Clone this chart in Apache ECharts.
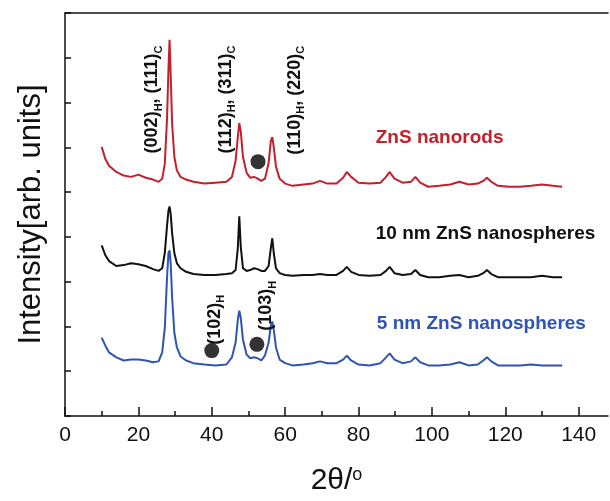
<!DOCTYPE html>
<html>
<head>
<meta charset="utf-8">
<script src="https://cdn.jsdelivr.net/npm/echarts@6/dist/echarts.min.js"></script>
<style>
  html, body { margin: 0; padding: 0; background: #fff; }
  #chart { width: 610px; height: 501px; }
</style>
</head>
<body>
<div id="chart"></div>
<script>
// 2theta positions (deg), shared by the three patterns
var twoTheta = [10, 11, 12, 14, 16, 18, 20, 22, 24, 25.5, 26.5, 27.2, 27.8, 28.2, 28.5, 28.8, 29.2, 29.8, 30.5, 31.5,
  33, 35, 38, 41, 44, 45.5, 46.5, 47.1, 47.5, 47.9, 48.5, 49.5, 50.5, 51.5, 52.5, 53.5, 54.5, 55.5, 56.1, 56.5,
  56.9, 57.5, 58.5, 60, 62, 65, 67.5, 69.5, 71.5, 74, 75.8, 76.8, 78, 80, 83, 86, 87.5, 88.5, 89.8, 92,
  94.3, 95.5, 96.8, 99, 102, 105, 107.5, 110, 112.5, 114, 115, 116.2, 118, 121, 124, 127, 130, 133, 135.5];

// ZnS nanorods (offset, top)
var nanorods = [6.01, 5.74, 5.59, 5.45, 5.37, 5.34, 5.39, 5.32, 5.28, 5.23, 5.30, 5.63, 6.63, 7.74, 8.40, 7.63, 6.52, 5.79, 5.48, 5.34,
  5.28, 5.23, 5.19, 5.21, 5.23, 5.34, 5.70, 6.23, 6.54, 6.36, 5.79, 5.43, 5.32, 5.34, 5.30, 5.25, 5.30, 5.65, 6.14, 6.23,
  6.01, 5.57, 5.30, 5.19, 5.14, 5.17, 5.19, 5.25, 5.19, 5.19, 5.32, 5.45, 5.34, 5.21, 5.19, 5.21, 5.34, 5.45, 5.30, 5.21,
  5.23, 5.34, 5.21, 5.12, 5.14, 5.17, 5.23, 5.17, 5.19, 5.25, 5.32, 5.23, 5.14, 5.12, 5.12, 5.14, 5.17, 5.14, 5.12];

// 10 nm ZnS nanospheres (middle)
var spheres10 = [3.81, 3.59, 3.46, 3.35, 3.37, 3.41, 3.39, 3.35, 3.28, 3.24, 3.30, 3.64, 4.24, 4.59, 4.68, 4.52, 4.08, 3.64, 3.41, 3.30,
  3.22, 3.17, 3.15, 3.15, 3.17, 3.19, 3.26, 3.75, 4.46, 3.79, 3.30, 3.24, 3.26, 3.30, 3.28, 3.24, 3.24, 3.35, 3.75, 3.97,
  3.64, 3.30, 3.19, 3.15, 3.13, 3.15, 3.15, 3.17, 3.15, 3.15, 3.24, 3.33, 3.22, 3.15, 3.13, 3.15, 3.24, 3.33, 3.19, 3.15,
  3.17, 3.26, 3.15, 3.10, 3.10, 3.13, 3.15, 3.10, 3.13, 3.19, 3.26, 3.17, 3.10, 3.10, 3.10, 3.10, 3.13, 3.10, 3.10];

// 5 nm ZnS nanospheres (bottom)
var spheres5 = [1.75, 1.57, 1.42, 1.31, 1.24, 1.26, 1.26, 1.24, 1.20, 1.22, 1.42, 1.97, 3.08, 3.64, 3.70, 3.41, 2.64, 1.86, 1.53, 1.33,
  1.24, 1.18, 1.15, 1.13, 1.15, 1.31, 1.64, 2.15, 2.35, 2.20, 1.71, 1.37, 1.29, 1.31, 1.29, 1.24, 1.35, 1.64, 2.02, 2.11,
  1.93, 1.53, 1.26, 1.18, 1.13, 1.15, 1.18, 1.22, 1.18, 1.18, 1.26, 1.35, 1.24, 1.15, 1.13, 1.18, 1.31, 1.40, 1.26, 1.18,
  1.22, 1.31, 1.20, 1.13, 1.13, 1.15, 1.20, 1.13, 1.15, 1.24, 1.31, 1.22, 1.13, 1.13, 1.13, 1.15, 1.13, 1.13, 1.13];

// black dots marking extra hexagonal reflections [2theta, intensity]
var dots = [[52.6, 5.68], [40.0, 1.46], [52.3, 1.60]];

// x ticks
var majorTicks = [0, 20, 40, 60, 80, 100, 120, 140];
var minorTicks = [10, 30, 50, 70, 90, 110, 130];

// peak index labels (anchor in data coords)
var peakLabels = ['(002){s|H}, (111){s|C}', '(112){s|H}, (311){s|C}', '(110){s|H}, (220){s|C}', '(102){s|H}', '(103){s|H}'];
var peakLabelPos = [[23.8, 7.07], [43.8, 7.07], [62.6, 7.05], [40.8, 2.15], [54.8, 2.46]];

var seriesNames = ['ZnS nanorods', '10 nm ZnS nanospheres', '5 nm ZnS nanospheres'];
var seriesNamePos = [[84.7, 6.21], [84.7, 4.08], [85.0, 2.06]];
var colors = ['#c4202c', '#111111', '#2f54b4'];

var font = 'Liberation Sans, Arial, Helvetica, sans-serif';

function pairs(ys) {
  var out = [];
  twoTheta.forEach(function (x, i) { out.push([x, ys[i]]); });
  return out;
}

var chart = echarts.init(document.getElementById('chart'));

var option = {
  animation: false,
  backgroundColor: '#fff',
  textStyle: { fontFamily: font },
  grid: { left: 65, top: 13, width: 543, height: 406 },
  xAxis: [{
    type: 'value', min: 0, max: 148,
    name: '2θ/{sup|o}', nameLocation: 'middle', nameGap: 50,
    nameTextStyle: {
      fontSize: 30, color: '#111', fontFamily: font,
      rich: { sup: { fontSize: 18, color: '#111', fontFamily: font, verticalAlign: 'top', lineHeight: 30 } }
    },
    axisLine: { lineStyle: { color: '#111', width: 1.5 } },
    axisTick: { inside: true, length: 9, customValues: majorTicks, lineStyle: { color: '#111', width: 1.5 } },
    axisLabel: { fontSize: 21, color: '#111', margin: 9, customValues: majorTicks, fontFamily: font },
    splitLine: { show: false }
  }, {
    type: 'value', min: 0, max: 148, position: 'bottom',
    axisLine: { show: false },
    axisTick: { inside: true, length: 5, customValues: minorTicks, lineStyle: { color: '#111', width: 1.5 } },
    axisLabel: { show: false },
    splitLine: { show: false }
  }, {
    type: 'value', min: 0, max: 148, position: 'top',
    axisLine: { lineStyle: { color: '#111', width: 1.5 } },
    axisTick: { show: false },
    axisLabel: { show: false },
    splitLine: { show: false }
  }],
  yAxis: {
    type: 'value', min: 0, max: 9, interval: 1,
    name: 'Intensity[arb. units]', nameLocation: 'middle', nameGap: 18,
    nameTextStyle: { fontSize: 31, color: '#111', fontFamily: font },
    axisLine: { lineStyle: { color: '#111', width: 1.5 } },
    axisTick: { inside: true, length: 6, lineStyle: { color: '#111', width: 1.5 } },
    axisLabel: { show: false },
    splitLine: { show: false }
  },
  series: [
    { name: seriesNames[0], type: 'line', data: pairs(nanorods), showSymbol: false, lineStyle: { color: colors[0], width: 2 }, z: 3 },
    { name: seriesNames[1], type: 'line', data: pairs(spheres10), showSymbol: false, lineStyle: { color: colors[1], width: 2 }, z: 3 },
    { name: seriesNames[2], type: 'line', data: pairs(spheres5), showSymbol: false, lineStyle: { color: colors[2], width: 2 }, z: 2 },
    { name: 'dots', type: 'scatter', data: dots, symbolSize: 15, itemStyle: { color: '#000' }, z: 4 }
  ]
};
chart.setOption(option);

// text annotations placed from data coordinates
var graphics = [];
peakLabels.forEach(function (txt, i) {
  var p = chart.convertToPixel({ gridIndex: 0 }, peakLabelPos[i]);
  graphics.push({
    type: 'text', x: p[0], y: p[1], rotation: Math.PI / 2,
    style: {
      text: txt, fill: '#111', font: 'bold 18px ' + font,
      align: 'center', verticalAlign: 'middle', lineHeight: 24,
      rich: { s: { fontSize: 11, fontWeight: 'bold', fill: '#111', fontFamily: font, verticalAlign: 'bottom', lineHeight: 24 } }
    },
    z: 10
  });
});
seriesNames.forEach(function (txt, i) {
  var p = chart.convertToPixel({ gridIndex: 0 }, seriesNamePos[i]);
  graphics.push({
    type: 'text', x: p[0], y: p[1],
    style: { text: txt, fill: colors[i], font: 'bold 19px ' + font, align: 'left', verticalAlign: 'middle' },
    z: 10
  });
});
chart.setOption({ graphic: graphics });
</script>
</body>
</html>
